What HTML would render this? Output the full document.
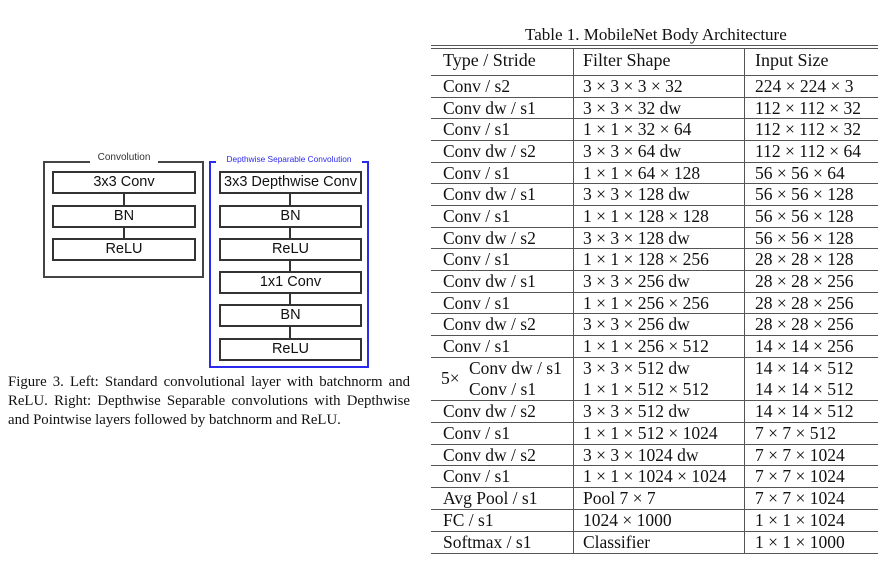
<!DOCTYPE html>
<html><head><meta charset="utf-8"><style>
body{margin:0;width:896px;height:564px;background:#fff;position:relative;overflow:hidden;font-family:"Liberation Serif",serif;color:#111}
.a{position:absolute}
.bx{position:absolute;border:2px solid #333;box-sizing:border-box;background:#fff;font-family:"Liberation Sans",sans-serif;font-size:14.5px;text-align:center;line-height:19px}
.vl{position:absolute;width:2px;background:#333}
.hl{position:absolute;left:431px;width:447px;height:1px;background:#555}
.t{position:absolute;font-size:17.5px;white-space:nowrap;line-height:20px}
.cap{position:absolute;left:8px;width:402px;font-size:14.8px;line-height:19px;text-align:justify;text-align-last:justify;white-space:nowrap}
</style></head><body>
<div class="a" style="left:43px;top:161px;width:161px;height:117px;border:2px solid #444;box-sizing:border-box"></div>
<div class="a" style="left:90px;top:152px;width:68px;background:#fff;font-family:'Liberation Sans',sans-serif;font-size:10px;text-align:center;color:#333">Convolution</div>
<div class="vl" style="left:123px;top:193px;height:45px"></div>
<div class="bx" style="left:52px;top:171px;width:144px;height:23px">3x3 Conv</div>
<div class="bx" style="left:52px;top:205px;width:144px;height:23px">BN</div>
<div class="bx" style="left:52px;top:238px;width:144px;height:23px">ReLU</div>

<div class="a" style="left:209px;top:161px;width:160px;height:207px;border:2px solid #2a2aee;box-sizing:border-box"></div>
<div class="a" style="left:216px;top:154px;width:146px;background:#fff;font-family:'Liberation Sans',sans-serif;font-size:8.3px;text-align:center;color:#2a2aee;white-space:nowrap">Depthwise Separable Convolution</div>
<div class="vl" style="left:289px;top:193px;height:150px"></div>
<div class="bx" style="left:219px;top:171px;width:143px;height:23px">3x3 Depthwise Conv</div>
<div class="bx" style="left:219px;top:205px;width:143px;height:23px">BN</div>
<div class="bx" style="left:219px;top:238px;width:143px;height:23px">ReLU</div>
<div class="bx" style="left:219px;top:271px;width:143px;height:23px">1x1 Conv</div>
<div class="bx" style="left:219px;top:304px;width:143px;height:23px">BN</div>
<div class="bx" style="left:219px;top:338px;width:143px;height:23px">ReLU</div>

<div class="cap" style="top:373px">Figure 3. Left: Standard convolutional layer with batchnorm and</div>
<div class="cap" style="top:392px">ReLU. Right: Depthwise Separable convolutions with Depthwise</div>
<div class="cap" style="top:411px;text-align-last:left">and Pointwise layers followed by batchnorm and ReLU.</div>

<div class="t" style="left:525px;top:25px;font-size:17px">Table 1. MobileNet Body Architecture</div>
<div class="hl" style="top:45px"></div>
<div class="hl" style="top:48px"></div>
<div class="a" style="left:573px;top:48px;width:1px;height:505px;background:#555"></div>
<div class="a" style="left:744px;top:48px;width:1px;height:505px;background:#555"></div>
<div class="t" style="left:443px;top:50px;font-size:18px">Type / Stride</div>
<div class="t" style="left:583px;top:50px;font-size:18px">Filter Shape</div>
<div class="t" style="left:755px;top:50px;font-size:18px">Input Size</div>
<div class="hl" style="top:75px"></div>

<div class="t" style="left:443px;top:76px">Conv / s2</div><div class="t" style="left:583px;top:76px">3 × 3 × 3 × 32</div><div class="t" style="left:755px;top:76px">224 × 224 × 3</div>
<div class="hl" style="top:96.6px"></div>
<div class="t" style="left:443px;top:97.6px">Conv dw / s1</div><div class="t" style="left:583px;top:97.6px">3 × 3 × 32 dw</div><div class="t" style="left:755px;top:97.6px">112 × 112 × 32</div>
<div class="hl" style="top:118.3px"></div>
<div class="t" style="left:443px;top:119.3px">Conv / s1</div><div class="t" style="left:583px;top:119.3px">1 × 1 × 32 × 64</div><div class="t" style="left:755px;top:119.3px">112 × 112 × 32</div>
<div class="hl" style="top:140px"></div>
<div class="t" style="left:443px;top:141px">Conv dw / s2</div><div class="t" style="left:583px;top:141px">3 × 3 × 64 dw</div><div class="t" style="left:755px;top:141px">112 × 112 × 64</div>
<div class="hl" style="top:161.6px"></div>
<div class="t" style="left:443px;top:162.6px">Conv / s1</div><div class="t" style="left:583px;top:162.6px">1 × 1 × 64 × 128</div><div class="t" style="left:755px;top:162.6px">56 × 56 × 64</div>
<div class="hl" style="top:183.3px"></div>
<div class="t" style="left:443px;top:184.3px">Conv dw / s1</div><div class="t" style="left:583px;top:184.3px">3 × 3 × 128 dw</div><div class="t" style="left:755px;top:184.3px">56 × 56 × 128</div>
<div class="hl" style="top:204.9px"></div>
<div class="t" style="left:443px;top:205.9px">Conv / s1</div><div class="t" style="left:583px;top:205.9px">1 × 1 × 128 × 128</div><div class="t" style="left:755px;top:205.9px">56 × 56 × 128</div>
<div class="hl" style="top:226.6px"></div>
<div class="t" style="left:443px;top:227.6px">Conv dw / s2</div><div class="t" style="left:583px;top:227.6px">3 × 3 × 128 dw</div><div class="t" style="left:755px;top:227.6px">56 × 56 × 128</div>
<div class="hl" style="top:248.2px"></div>
<div class="t" style="left:443px;top:249.2px">Conv / s1</div><div class="t" style="left:583px;top:249.2px">1 × 1 × 128 × 256</div><div class="t" style="left:755px;top:249.2px">28 × 28 × 128</div>
<div class="hl" style="top:269.9px"></div>
<div class="t" style="left:443px;top:270.9px">Conv dw / s1</div><div class="t" style="left:583px;top:270.9px">3 × 3 × 256 dw</div><div class="t" style="left:755px;top:270.9px">28 × 28 × 256</div>
<div class="hl" style="top:291.5px"></div>
<div class="t" style="left:443px;top:292.5px">Conv / s1</div><div class="t" style="left:583px;top:292.5px">1 × 1 × 256 × 256</div><div class="t" style="left:755px;top:292.5px">28 × 28 × 256</div>
<div class="hl" style="top:313.2px"></div>
<div class="t" style="left:443px;top:314.2px">Conv dw / s2</div><div class="t" style="left:583px;top:314.2px">3 × 3 × 256 dw</div><div class="t" style="left:755px;top:314.2px">28 × 28 × 256</div>
<div class="hl" style="top:334.8px"></div>
<div class="t" style="left:443px;top:335.8px">Conv / s1</div><div class="t" style="left:583px;top:335.8px">1 × 1 × 256 × 512</div><div class="t" style="left:755px;top:335.8px">14 × 14 × 256</div>
<div class="hl" style="top:356.5px"></div>
<div class="t" style="left:441px;top:368px">5×</div>
<div class="t" style="left:469px;top:357.5px">Conv dw / s1</div><div class="t" style="left:583px;top:357.5px">3 × 3 × 512 dw</div><div class="t" style="left:755px;top:357.5px">14 × 14 × 512</div>
<div class="t" style="left:469px;top:378.5px">Conv / s1</div><div class="t" style="left:583px;top:378.5px">1 × 1 × 512 × 512</div><div class="t" style="left:755px;top:378.5px">14 × 14 × 512</div>
<div class="hl" style="top:400px"></div>
<div class="t" style="left:443px;top:401px">Conv dw / s2</div><div class="t" style="left:583px;top:401px">3 × 3 × 512 dw</div><div class="t" style="left:755px;top:401px">14 × 14 × 512</div>
<div class="hl" style="top:421.8px"></div>
<div class="t" style="left:443px;top:422.8px">Conv / s1</div><div class="t" style="left:583px;top:422.8px">1 × 1 × 512 × 1024</div><div class="t" style="left:755px;top:422.8px">7 × 7 × 512</div>
<div class="hl" style="top:443.6px"></div>
<div class="t" style="left:443px;top:444.6px">Conv dw / s2</div><div class="t" style="left:583px;top:444.6px">3 × 3 × 1024 dw</div><div class="t" style="left:755px;top:444.6px">7 × 7 × 1024</div>
<div class="hl" style="top:465.4px"></div>
<div class="t" style="left:443px;top:466.4px">Conv / s1</div><div class="t" style="left:583px;top:466.4px">1 × 1 × 1024 × 1024</div><div class="t" style="left:755px;top:466.4px">7 × 7 × 1024</div>
<div class="hl" style="top:487.2px"></div>
<div class="t" style="left:443px;top:488.2px">Avg Pool / s1</div><div class="t" style="left:583px;top:488.2px">Pool 7 × 7</div><div class="t" style="left:755px;top:488.2px">7 × 7 × 1024</div>
<div class="hl" style="top:509px"></div>
<div class="t" style="left:443px;top:510px">FC / s1</div><div class="t" style="left:583px;top:510px">1024 × 1000</div><div class="t" style="left:755px;top:510px">1 × 1 × 1024</div>
<div class="hl" style="top:530.8px"></div>
<div class="t" style="left:443px;top:531.8px">Softmax / s1</div><div class="t" style="left:583px;top:531.8px">Classifier</div><div class="t" style="left:755px;top:531.8px">1 × 1 × 1000</div>
<div class="hl" style="top:552.5px"></div>
</body></html>
